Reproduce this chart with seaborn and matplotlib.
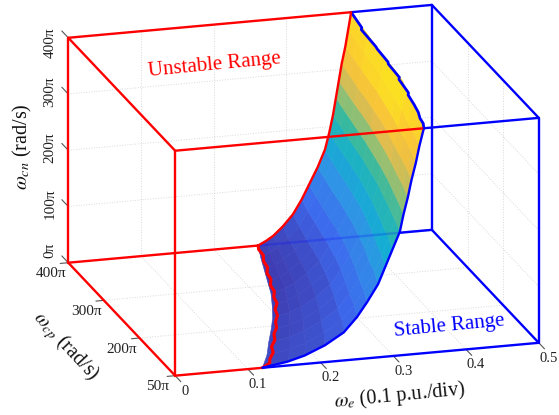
import numpy as np
import seaborn as sns
import matplotlib.pyplot as plt
from mpl_toolkits.mplot3d import proj3d

sns.set_theme(style='white')
plt.rcParams['font.family'] = ['Liberation Serif', 'DejaVu Serif']
plt.rcParams['mathtext.fontset'] = 'stix'

RED = '#ff0000'
BLUE = '#0000ff'

# axis ticks (omega_cp runs evenly, the first tick is labelled 50pi in the original)
we_ticks = [0, 0.1, 0.2, 0.3, 0.4, 0.5]
we_labels = ['0', '0.1', '0.2', '0.3', '0.4', '0.5']
wcp_ticks = [100, 200, 300, 400]
wcp_labels = ['50π', '200π', '300π', '400π']
wcn_ticks = [0, 100, 200, 300, 400]
wcn_labels = ['0π', '100π', '200π', '300π', '400π']

# stability boundary: omega_e, rows are wcn, columns are wcp
wcp_grid = [100, 130, 160, 190, 220, 250, 280, 310, 340, 370, 400]
wcn_grid = [0, 7, 15, 30, 50, 75, 100, 130, 160, 190, 220, 250, 280, 310, 340, 370, 400]
we_table = [
    [.120, .141, .158, .176, .193, .207, .220, .230, .240, .250, .261],
    [.155, .173, .187, .202, .216, .228, .239, .247, .255, .263, .272],
    [.178, .194, .206, .220, .232, .242, .252, .259, .266, .274, .282],
    [.206, .219, .230, .242, .252, .261, .269, .275, .282, .288, .295],
    [.232, .244, .253, .263, .272, .280, .287, .292, .297, .303, .309],
    [.250, .261, .269, .278, .287, .294, .300, .305, .310, .315, .321],
    [.264, .274, .282, .291, .299, .306, .312, .316, .321, .326, .331],
    [.279, .289, .296, .305, .312, .319, .324, .329, .333, .338, .343],
    [.289, .299, .306, .315, .322, .329, .334, .339, .343, .348, .353],
    [.299, .308, .315, .323, .330, .336, .342, .346, .350, .354, .359],
    [.309, .317, .324, .331, .338, .343, .348, .352, .356, .360, .364],
    [.314, .322, .329, .336, .342, .347, .352, .356, .360, .364, .368],
    [.320, .328, .334, .341, .347, .352, .357, .361, .364, .368, .372],
    [.325, .333, .339, .345, .352, .357, .361, .365, .368, .372, .376],
    [.331, .339, .345, .351, .357, .362, .367, .370, .374, .377, .381],
    [.336, .343, .349, .356, .361, .366, .371, .374, .378, .381, .385],
    [.342, .350, .356, .362, .372, .375, .377, .379, .383, .386, .389],
]
# colour read per row, a small shift per column, and the warm hump in the upper rows
colour_levels = [.02, .03, .04, .06, .09, .13, .18, .25, .33, .41, .49, .59, .67, .75, .82, .87, .93]
colour_shift = [.03, .03, .02, .02, .01, .01, 0, 0, 0, .01, .02]
hump_weight = [0, 0, 0, 0, 0, 0, 0, 0, 0, 0, .1, .3, .6, .9, .9, .5, 0]
hump_shape = [0, .02, .05, .08, .10, .10, .10, .10, .08, .06, .04]

# jagged ends of the boundary
low_edge_wcp = [100, 110, 120, 135, 150, 165, 180, 195, 210, 225, 240, 255, 270, 285, 300, 315, 330, 345, 360, 375, 390, 400]
low_edge_we = [.120, .135, .140, .152, .157, .169, .175, .186, .192, .202, .206, .216, .219, .227, .229, .237, .239, .247, .249, .256, .257, .261]
top_edge_wcp = [100, 112, 125, 140, 160, 185, 190, 225, 230, 265, 270, 305, 310, 355, 360, 400]
top_edge_we = [.342, .347, .349, .354, .358, .362, .365, .369, .372, .374, .376, .378, .379, .381, .384, .389]

parula = sns.blend_palette(['#3f35a8', '#3d6aee', '#2f93e6', '#12b0d0', '#38b99e',
                            '#92bf73', '#e8bd4a', '#fcc832', '#f9fb0e'], as_cmap=True)

fig = plt.figure(figsize=(5.59, 4.15), dpi=100)
ax = fig.add_axes([90.4 / 559, 11.6 / 415, 415 / 559, 1], projection='3d', proj_type='ortho',
                  computed_zorder=False)
ax.set_box_aspect((379, 381, 236.6), zoom=1.373)
ax.view_init(elev=18, azim=-106.3)
ax.set_xlim(0, 0.5)
ax.set_ylim(100, 400)
ax.set_zlim(0, 400)
ax.set_xticks([])
ax.set_yticks([])
ax.set_zticks([])
ax.set_axis_off()


def label_at(x, y, z, text, **kw):
    # tick label at a data position, drawn as plain 2D text
    x2, y2, _ = proj3d.proj_transform(x, y, z, ax.get_proj())
    ax.text2D(x2, y2, text, transform=ax.transData, color='#222222', ha='center', va='center', **kw)


# grid on the floor and the two back walls
grid_kw = dict(color='#d9d9d9', lw=0.7, ls=':', zorder=1)
for x in we_ticks[1:-1]:
    ax.plot([x, x], [100, 400], [0, 0], **grid_kw)
    ax.plot([x, x], [400, 400], [0, 400], **grid_kw)
for y in wcp_ticks[1:-1]:
    ax.plot([0, 0.5], [y, y], [0, 0], **grid_kw)
    ax.plot([0.5, 0.5], [y, y], [0, 400], **grid_kw)
for z in wcn_ticks[1:-1]:
    ax.plot([0, 0.5], [400, 400], [z, z], **grid_kw)
    ax.plot([0.5, 0.5], [100, 400], [z, z], **grid_kw)

# tick marks
tick_kw = dict(color='#555555', lw=0.8, zorder=1)
for x, lab in zip(we_ticks, we_labels):
    ax.plot([x, x], [100, 84], [0, 0], **tick_kw)
    label_at(x - 0.006, 60, 0, lab, fontsize=10.5)
for y, lab in zip(wcp_ticks, wcp_labels):
    ax.plot([0, -0.011], [y, y], [0, 0], **tick_kw)
    label_at(-0.024, y, -17, lab, fontsize=11)
for z, lab, z_text in zip(wcn_ticks, wcn_labels, [25, 107, 207, 307, 395]):
    ax.plot([0, 0], [400, 418], [z, z], **tick_kw)
    label_at(-0.025, 400, z_text, lab, fontsize=11, rotation=90)

line_kw = dict(lw=1.7, solid_capstyle='round')
x_low_front, x_low_back = we_table[0][0], we_table[0][-1]
x_top_front, x_top_back = we_table[-1][0], we_table[-1][-1]

# blue box edges behind the surface
ax.plot([x_low_back, 0.5], [400, 400], [0, 0], color=BLUE, zorder=2, **line_kw)
ax.plot([0.5, 0.5], [400, 400], [0, 400], color=BLUE, zorder=2, **line_kw)
ax.plot([x_top_back, 0.5], [400, 400], [400, 400], color=BLUE, zorder=2, **line_kw)

# red box edges behind the surface
ax.plot([0, x_low_back], [400, 400], [0, 0], color=RED, zorder=2, **line_kw)
ax.plot([0, x_top_back], [400, 400], [400, 400], color=RED, zorder=2, **line_kw)
ax.plot([0, 0], [400, 400], [0, 400], color=RED, zorder=2, **line_kw)

# surface
Y, Z = np.meshgrid(wcp_grid, wcn_grid)
X = np.array(we_table)
C = (np.array(colour_levels)[:, None] + np.array(colour_shift)[None, :]
     + np.array(hump_weight)[:, None] * np.array(hump_shape)[None, :])
ax.plot_surface(X, Y, Z, facecolors=parula(np.clip(C, 0, 1)), rstride=1, cstride=1, shade=False,
                linewidth=0.4, antialiased=True, zorder=3)

# blue line seen faintly through the surface
ax.plot([x_low_back, 0.5], [400, 400], [0, 0], color=BLUE, lw=1.7, alpha=0.2, zorder=4)

# surface outline
ax.plot(low_edge_we, low_edge_wcp, [0] * len(low_edge_we), color=RED, lw=2.2, zorder=5)
ax.plot(top_edge_we, top_edge_wcp, [400] * len(top_edge_we), color=BLUE, lw=2, zorder=5)
ax.plot(X[:, -1], Y[:, -1], Z[:, -1], color=RED, zorder=5, **line_kw)
ax.plot(X[:, 0], Y[:, 0], Z[:, 0], color=BLUE, zorder=5, **line_kw)

# box edges in front
ax.plot([0, x_low_front], [100, 100], [0, 0], color=RED, zorder=5, **line_kw)
ax.plot([x_low_front, 0.5], [100, 100], [0, 0], color=BLUE, zorder=5, **line_kw)
ax.plot([0, x_top_front], [100, 100], [400, 400], color=RED, zorder=5, **line_kw)
ax.plot([x_top_front, 0.5], [100, 100], [400, 400], color=BLUE, zorder=5, **line_kw)
ax.plot([0, 0], [100, 100], [0, 400], color=RED, zorder=5, **line_kw)
ax.plot([0.5, 0.5], [100, 100], [0, 400], color=BLUE, zorder=5, **line_kw)
ax.plot([0, 0], [100, 400], [0, 0], color=RED, zorder=5, **line_kw)
ax.plot([0, 0], [100, 400], [400, 400], color=RED, zorder=5, **line_kw)
ax.plot([0.5, 0.5], [100, 400], [0, 0], color=BLUE, zorder=5, **line_kw)
ax.plot([0.5, 0.5], [100, 400], [400, 400], color=BLUE, zorder=5, **line_kw)

# the square axes box is narrower than the figure
for artist in ax.get_children():
    artist.set_clip_on(False)

# annotations and axis titles
fig.text(214 / 559, 1 - 65 / 415, 'Unstable Range', color=RED, fontsize=15, rotation=5.5,
         ha='center', va='center')
fig.text(449 / 559, 1 - 326 / 415, 'Stable Range', color=BLUE, fontsize=15, rotation=5.5,
         ha='center', va='center')
fig.text(400 / 559, 1 - 396 / 415, r'$\omega_e$ (0.1 p.u./div)', color='#111111', fontsize=14.5,
         rotation=5.5, ha='center', va='center')
fig.text(66 / 559, 1 - 346 / 415, r'$\omega_{cp}$ (rad/s)', color='#111111', fontsize=14.5,
         rotation=-47, ha='center', va='center')
fig.text(22 / 559, 1 - 147 / 415, r'$\omega_{cn}$ (rad/s)', color='#111111', fontsize=14.5,
         rotation=90, ha='center', va='center')

fig.savefig('out.png', dpi=100)
